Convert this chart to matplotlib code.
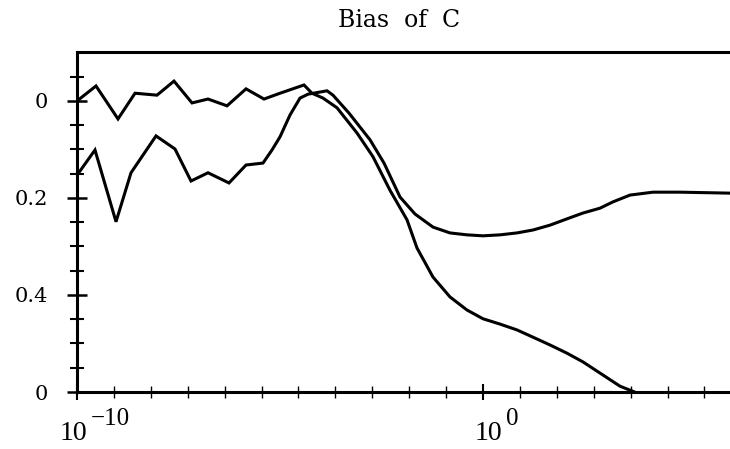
import numpy as np
import matplotlib
matplotlib.use("Agg")
import matplotlib.pyplot as plt
from matplotlib.ticker import FixedLocator, NullFormatter

# ---- data (log10 of x, bias values as printed; axis drawn with bias increasing downward) ----
logx_a = [-10.0, -9.532, -8.990, -8.571, -8.030, -7.611, -7.167, -6.773, -6.305, -5.837,
          -5.394, -5.000, -4.409, -4.212, -3.941, -3.596, -3.103, -2.709, -2.291, -1.872,
          -1.626, -1.232, -0.813, -0.394, 0.000, 0.419, 0.837, 1.232, 1.650, 2.069,
          2.463, 2.882, 3.374, 3.793, 4.36]
bias_a = [0.000, -0.031, 0.037, -0.016, -0.012, -0.041, 0.004, -0.004, 0.010, -0.025,
          -0.004, -0.016, -0.033, -0.016, -0.006, 0.014, 0.066, 0.115, 0.184, 0.245,
          0.303, 0.363, 0.404, 0.431, 0.449, 0.460, 0.472, 0.487, 0.503, 0.520,
          0.538, 0.561, 0.588, 0.602, 0.65]

logx_b = [-10.0, -9.557, -9.039, -8.670, -8.054, -7.586, -7.192, -6.773, -6.256, -5.837,
          -5.419, -5.197, -5.000, -4.754, -4.507, -4.310, -3.842, -3.695, -3.300, -2.783,
          -2.438, -2.044, -1.675, -1.232, -0.813, -0.394, 0.000, 0.419, 0.837, 1.232,
          1.650, 2.069, 2.463, 2.882, 3.202, 3.621, 4.187, 4.852, 6.084]
bias_b = [0.153, 0.101, 0.249, 0.148, 0.072, 0.099, 0.165, 0.148, 0.169, 0.132,
          0.128, 0.101, 0.074, 0.029, -0.006, -0.014, -0.021, -0.012, 0.025, 0.080,
          0.128, 0.198, 0.233, 0.260, 0.272, 0.276, 0.278, 0.276, 0.272, 0.266,
          0.256, 0.243, 0.231, 0.221, 0.208, 0.194, 0.188, 0.188, 0.190]

ytick_vals = [0.0, 0.2, 0.4, 0.6]
ytick_labels = ["0", "0.2", "0.4", "0"]
xtick_major = [-10, 0]
xtick_base = ["10", "10"]
xtick_exp = ["\u221210", "0"]
xlabel_shift_px = [-4, 5]
title = "Bias  of  C"

# ---- figure ----
plt.rcParams["font.family"] = ["DejaVu Serif"]
fig = plt.figure(figsize=(7.30, 4.49), dpi=100)
ax = fig.add_axes([77/730, 57/449, 1 - 77/730, (392-52)/449])

xa = np.power(10.0, logx_a)
xb = np.power(10.0, logx_b)
ax.plot(xa, bias_a, color="black", lw=2.2, solid_joinstyle="miter")
ax.plot(xb, bias_b, color="black", lw=2.2, solid_joinstyle="miter")

ax.set_xscale("log")
ax.set_xlim(1e-10, 10**6.084)
ax.set_ylim(0.6, -0.101)

# y ticks
ax.yaxis.set_major_locator(FixedLocator(ytick_vals))
ax.set_yticklabels(ytick_labels)
ax.yaxis.set_minor_locator(FixedLocator(np.arange(-0.05, 0.6, 0.05)))
ax.tick_params(axis="y", which="major", direction="inout", length=14, width=1.8, labelsize=15, pad=14)
ax.tick_params(axis="y", which="minor", direction="inout", length=10, width=1.5)

# x ticks (labels drawn as base + large superscript, like the original)
ax.xaxis.set_major_locator(FixedLocator([10.0**v for v in xtick_major]))
ax.xaxis.set_major_formatter(NullFormatter())
ax.xaxis.set_minor_locator(FixedLocator([10.0**(-10 + k*10/11) for k in range(1, 18)]))
ax.xaxis.set_minor_formatter(NullFormatter())
ax.tick_params(axis="x", which="major", direction="inout", length=12, width=1.5)
ax.tick_params(axis="x", which="minor", direction="inout", length=8, width=1.0)

px = 0.72  # points per pixel at 100 dpi
for v, b, e, s in zip(xtick_major, xtick_base, xtick_exp, xlabel_shift_px):
    ax.annotate(b, xy=(10.0**v, 0), xycoords=("data", "axes fraction"),
                xytext=(s*px, -48*px), textcoords="offset points",
                ha="center", va="baseline", fontsize=20, family="Liberation Serif")
    ax.annotate(e, xy=(10.0**v, 0), xycoords=("data", "axes fraction"),
                xytext=((s + 18)*px, -33*px), textcoords="offset points",
                ha="left", va="baseline", fontsize=18, family="Liberation Serif")

for sp in ["left", "bottom", "top"]:
    ax.spines[sp].set_linewidth(2.2)
ax.spines["right"].set_visible(False)

fig.text(0.547, 0.955, title, ha="center", va="center", fontsize=17)

fig.savefig("out.png", dpi=100)
